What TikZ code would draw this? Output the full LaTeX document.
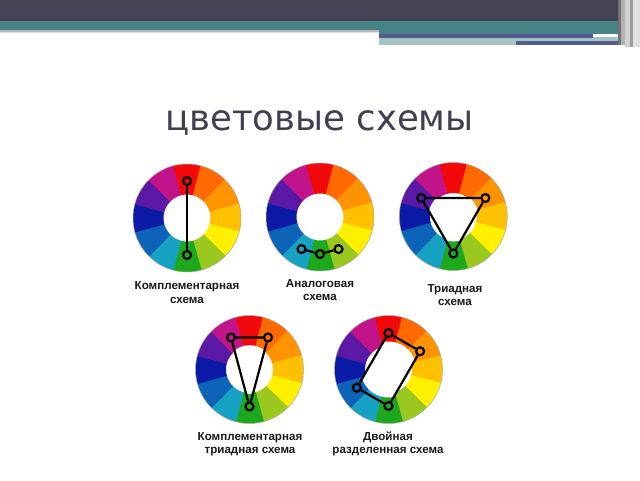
\documentclass[tikz,border=0pt]{standalone}
\usepackage{fontspec}
\newfontfamily\titlefont{DejaVu Sans}
\newfontfamily\lblfont{Liberation Sans}
\definecolor{barDark}{HTML}{434354}
\definecolor{barTeal}{HTML}{468384}
\definecolor{barLight}{HTML}{A3C4C3}
\definecolor{barPurple}{HTML}{565B8F}
\definecolor{titleCol}{HTML}{3F3F50}
\definecolor{cR}{HTML}{F20A0A}
\definecolor{cRO}{HTML}{FF6A00}
\definecolor{cO}{HTML}{FF9300}
\definecolor{cYO}{HTML}{FFC000}
\definecolor{cY}{HTML}{FFF000}
\definecolor{cYG}{HTML}{9BC81E}
\definecolor{cG}{HTML}{1EA81E}
\definecolor{cC}{HTML}{17A2C4}
\definecolor{cB}{HTML}{0D63B8}
\definecolor{cDB}{HTML}{0B1BA6}
\definecolor{cV}{HTML}{5B18A4}
\definecolor{cM}{HTML}{C1148B}
\tikzset{
  wheel/.pic={
    \foreach \col [count=\i from 0] in {cR,cRO,cO,cYO,cY,cYG,cG,cC,cB,cDB,cV,cM}{
      \pgfmathsetmacro\sa{90-30*\i+15.6}
      \pgfmathsetmacro\sb{90-30*\i-15}
      \fill[\col] (\sa:54pt) arc[start angle=\sa, end angle=\sb, radius=54pt]
        -- (\sb:23.5pt) arc[start angle=\sb, end angle=\sa, radius=23.5pt] -- cycle;
    }
    \draw[black!35, line width=0.5pt] (0,0) circle[radius=54pt];
  },
  mk/.style={circle, draw=black, line width=2.2pt, minimum size=8pt, inner sep=0pt},
  link/.style={line width=2.2pt, black},
  lbl/.style={font=\lblfont\bfseries\fontsize{11.6}{13.5}\selectfont, align=center, inner sep=0pt, text=black!90}
}
\begin{document}
\begin{tikzpicture}[x=1pt,y=-1pt]
\useasboundingbox (0,0) rectangle (640,480);
% top bar
\fill[barDark] (0,0) rectangle (620,21);
\fill[barTeal] (0,21) rectangle (625,30);
\fill[black!28] (0,30) rectangle (379,31.5);
\fill[black!12] (0,31.5) rectangle (379,32.5);
\fill[barTeal] (379,30) rectangle (625,33.5);
\fill[barLight] (379,37) rectangle (625,45);
\fill[barPurple] (379,34) rectangle (593,37.5);
\fill[barPurple] (516,41) rectangle (628,44.5);
\fill[black!55] (618,0) rectangle (621,45);
\fill[black!30] (621,0) rectangle (625,45);
\fill[black!18] (625,0) rectangle (630,47);
\fill[black!38] (630,0) rectangle (633,47);
\fill[black!12] (633,0) rectangle (640,47);
% title
\node[font=\titlefont\fontsize{35.5}{40}\selectfont, text=titleCol, anchor=base, inner sep=0pt] (title) at (319.5,130.5) {цветовые схемы};

% wheel 1: complementary
\coordinate (w1) at (187,218);
\pic at (w1) {wheel};
\node[mk] (a1) at ([shift={(90:37pt)}]w1) {};
\node[mk] (a2) at ([shift={(-90:37pt)}]w1) {};
\draw[link] (a1) -- (a2);
\node[lbl] (l1) at (187,292.5) {Комплементарная\\схема};

% wheel 2: analogous
\coordinate (w2) at (320,217);
\pic at (w2) {wheel};
\node[mk] (b1) at ([shift={(-120:37pt)}]w2) {};
\node[mk] (b2) at ([shift={(-90:37pt)}]w2) {};
\node[mk] (b3) at ([shift={(-60:37pt)}]w2) {};
\draw[link] (b1) -- (b2) -- (b3);
\node[lbl] (l2) at (320,290) {Аналоговая\\схема};

% wheel 3: triad
\coordinate (w3) at (453.3,216.5);
\pic at (w3) {wheel};
\coordinate (c1p) at ([shift={(150:37pt)}]w3);
\coordinate (c2p) at ([shift={(30:37pt)}]w3);
\coordinate (c3p) at ([shift={(-90:37pt)}]w3);
\begin{scope}
  \clip (c1p) -- (c2p) -- (c3p) -- cycle;
  \fill[white] (w3) circle[radius=25pt];
\end{scope}
\node[mk] (c1) at (c1p) {};
\node[mk] (c2) at (c2p) {};
\node[mk] (c3) at (c3p) {};
\draw[link] (c1) -- (c2) -- (c3) -- (c1);
\node[lbl] (l3) at (455,295) {Триадная\\схема};

% wheel 4: split complementary
\coordinate (w4) at (249.5,369.5);
\pic at (w4) {wheel};
\coordinate (e1p) at ([shift={(120:37pt)}]w4);
\coordinate (e2p) at ([shift={(60:37pt)}]w4);
\coordinate (e3p) at ([shift={(-90:37pt)}]w4);
\begin{scope}
  \clip (e1p) -- (e2p) -- (e3p) -- cycle;
  \fill[white] (w4) circle[radius=24.3pt];
\end{scope}
\node[mk] (e1) at (e1p) {};
\node[mk] (e2) at (e2p) {};
\node[mk] (e3) at (e3p) {};
\draw[link] (e1) -- (e2) -- (e3) -- (e1);
\node[lbl] (l4) at (250,444) {Комплементарная\\триадная схема};

% wheel 5: double split
\coordinate (w5) at (388.5,369.5);
\pic at (w5) {wheel};
\coordinate (d1p) at ([shift={(90:36.5pt)}]w5);
\coordinate (d2p) at ([shift={(30:36.5pt)}]w5);
\coordinate (d3p) at ([shift={(-90:36.5pt)}]w5);
\coordinate (d4p) at ([shift={(-150:36.5pt)}]w5);
\begin{scope}
  \clip (d1p) -- (d2p) -- (d3p) -- (d4p) -- cycle;
  \fill[white] (w5) circle[radius=28pt];
\end{scope}
\node[mk] (d1) at (d1p) {};
\node[mk] (d2) at (d2p) {};
\node[mk] (d3) at (d3p) {};
\node[mk] (d4) at (d4p) {};
\draw[link] (d1) -- (d2) -- (d3) -- (d4) -- (d1);
\node[lbl] (l5) at (388,444) {Двойная\\разделенная схема};
\end{tikzpicture}
\end{document}
